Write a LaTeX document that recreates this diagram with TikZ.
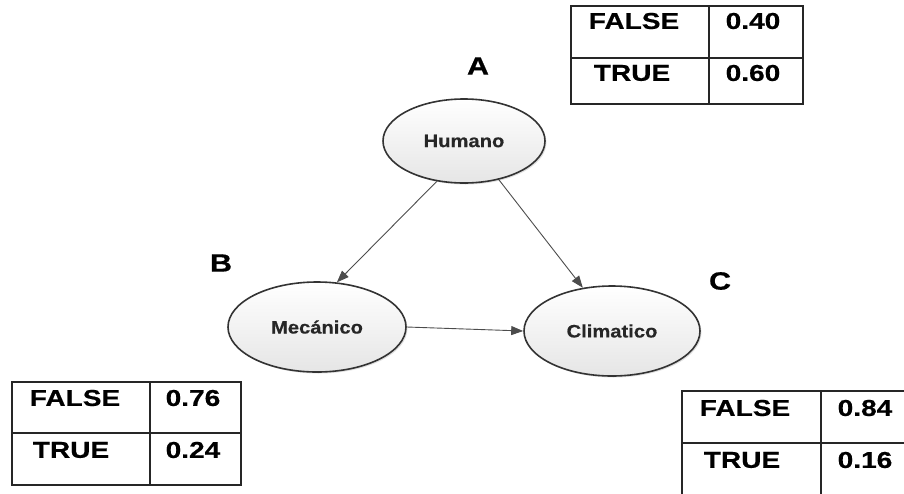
\documentclass[tikz,border=0pt]{standalone}
\usepackage{fontspec}
\setmainfont{Liberation Sans}
\newfontfamily\widefont[FakeStretch=1.12,FakeBold=0.4]{Liberation Sans}
\newfontfamily\cellfont[FakeStretch=1.22,FakeBold=0.6]{Liberation Sans}
\usetikzlibrary{positioning,shapes.geometric,arrows.meta,shadows}

\begin{document}
\begin{tikzpicture}[x=1pt,y=-1pt,
	event/.style={shape=ellipse, draw=black!80, line width=1.6pt, top color=white, bottom color=black!10,
		minimum width=162pt, minimum height=84pt, inner sep=0pt,
		drop shadow={shadow xshift=1.5pt, shadow yshift=-1.5pt, opacity=0.25},
		font=\widefont\fontsize{18}{20}\selectfont\bfseries, text=black!85},
	conn/.style={draw=black!70, line width=0.9pt, -{Triangle[length=12pt,width=9pt]}},
	tag/.style={font=\cellfont\fontsize{25}{28}\selectfont\bfseries},
	cell/.style={font=\cellfont\fontsize{23}{25}\selectfont\bfseries, inner sep=0pt},
	grid/.style={draw=black!85, line width=1.3pt}]
	\useasboundingbox (0,0) rectangle (904,493);
	\clip (0,0) rectangle (904,493);
	% nodes
	\node[event] (hum) at (464,141) {Humano};
	\node[event, minimum width=178pt, minimum height=90pt] (mec) at (317,327) {Mec\'anico};
	\node[event, minimum width=176pt, minimum height=90pt] (cli) at (612,331) {Climatico};
	\node[tag] (la) at (478,66) {A};
	\node[tag] (lb) at (221,263) {B};
	\node[tag] (lc) at (720,281) {C};
	% arcs
	\draw[conn] (hum.236) -- (mec.66);
	\draw[conn] (hum.312) -- (cli.124);
	\draw[conn] (mec.east) -- (cli.west);
	% table A
	\draw[grid] (571,6) rectangle (803,104) (709,6) -- (709,104) (571,58) -- (803,58);
	\node[cell] (af) at (634,21) {FALSE};
	\node[cell] (ap) at (753,21) {0.40};
	\node[cell] (at) at (632,73) {TRUE};
	\node[cell] (aq) at (753,73) {0.60};
	% table B
	\draw[grid] (12,382) rectangle (241,485) (150,382) -- (150,485) (12,433) -- (241,433);
	\node[cell] (bf) at (75,398) {FALSE};
	\node[cell] (bp) at (193,398) {0.76};
	\node[cell] (bt) at (71,450) {TRUE};
	\node[cell] (bq) at (193,450) {0.24};
	% table C
	\draw[grid] (682,391) rectangle (930,510) (821,391) -- (821,510) (682,443) -- (930,443);
	\node[cell] (cf) at (745,408) {FALSE};
	\node[cell] (cp) at (865,408) {0.84};
	\node[cell] (ct) at (742,460) {TRUE};
	\node[cell] (cq) at (865,460) {0.16};
\end{tikzpicture}
\end{document}
